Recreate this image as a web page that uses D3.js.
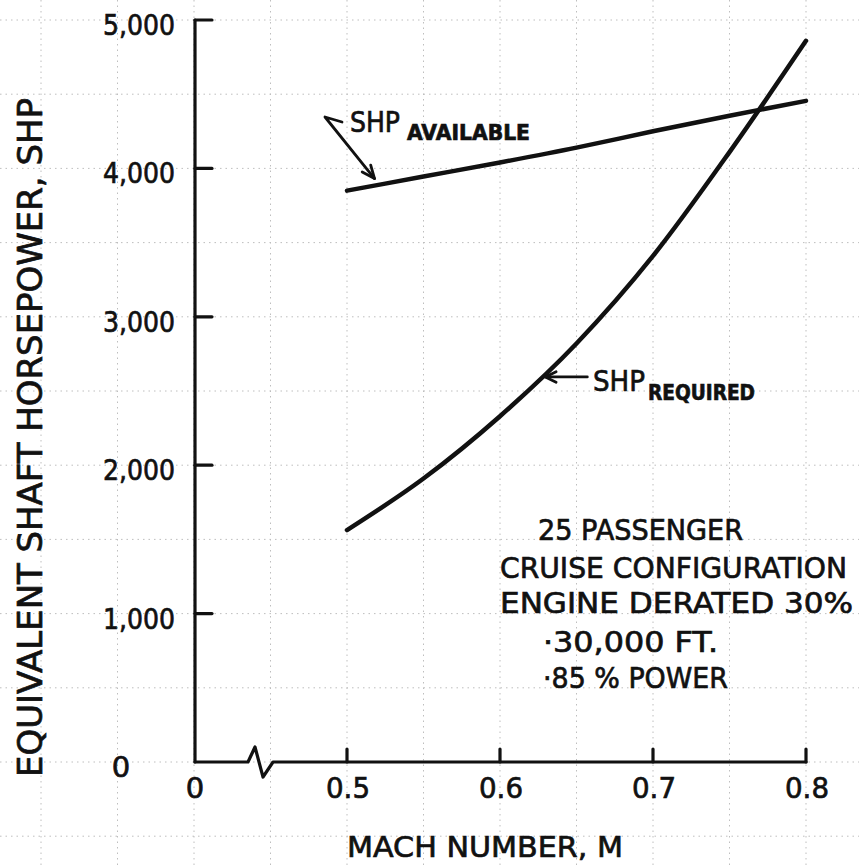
<!DOCTYPE html>
<html>
<head>
<meta charset="utf-8">
<script src="https://cdn.jsdelivr.net/npm/d3@7/dist/d3.min.js"></script>
<style>
  html, body { margin: 0; padding: 0; background: #fff; }
  svg { display: block; }
  text { font-family: "DejaVu Sans", "Liberation Sans", sans-serif; fill: #111; stroke: #111; stroke-width: 0.7px; }
</style>
</head>
<body>
<script>
// ---------------- data ----------------
const mach = [0.5, 0.55, 0.6, 0.65, 0.7, 0.75, 0.8];
const shpAvailable = [3850, 3945, 4040, 4140, 4250, 4355, 4455];
const shpRequired = [1563, 1910, 2330, 2820, 3410, 4110, 4860];
const machTicks = [0.5, 0.6, 0.7, 0.8];
const shpTicks = [0, 1000, 2000, 3000, 4000, 5000];
const xTitle = "MACH NUMBER, M";
const yTitle = "EQUIVALENT SHAFT HORSEPOWER, SHP";
const noteLines = ["25 PASSENGER", "CRUISE CONFIGURATION", "ENGINE DERATED 30%", "·30,000 FT.", "·85 % POWER"];

// ---------------- layout ----------------
const W = 859, H = 868;
const svg = d3.select("body").append("svg").attr("width", W).attr("height", H);

const x = d3.scaleLinear().domain([0.5, 0.8]).range([347, 806]);
const y = d3.scaleLinear().domain([0, 5000]).range([762, 20]);
const axisX0 = 195;            // broken-axis origin (M = 0)

// ---------------- paper grid ----------------
const grid = svg.append("g").attr("stroke", "#8a8a8a").attr("stroke-width", 1)
  .attr("stroke-dasharray", "1.5 4").attr("opacity", 0.55);
const gx = d3.range(0.30, 0.851, 0.05);
const gy = d3.range(-500, 5501, 500);
grid.selectAll("line.v").data(gx).join("line").attr("class", "v")
  .attr("x1", d => x(d)).attr("x2", d => x(d)).attr("y1", 0).attr("y2", H);
grid.selectAll("line.h").data(gy).join("line").attr("class", "h")
  .attr("y1", d => y(d)).attr("y2", d => y(d)).attr("x1", 0).attr("x2", W);

// ---------------- axes ----------------
const ax = svg.append("g").attr("stroke", "#111").attr("fill", "none")
  .attr("stroke-width", 3.2).attr("stroke-linecap", "round").attr("stroke-linejoin", "round");
ax.append("line").attr("x1", axisX0).attr("x2", axisX0).attr("y1", y(5000)).attr("y2", y(0));
ax.selectAll("line.yt").data(shpTicks.filter(d => d > 0)).join("line").attr("class", "yt")
  .attr("x1", axisX0).attr("x2", axisX0 + 17).attr("y1", d => y(d)).attr("y2", d => y(d));
const y0 = y(0);
ax.append("path").attr("d",
  `M${axisX0},${y0} L248,${y0} L255,${y0 - 15} L263,${y0 + 15} L273,${y0} L${x(0.8)},${y0}`);
ax.selectAll("line.xt").data(machTicks).join("line").attr("class", "xt")
  .attr("x1", d => x(d)).attr("x2", d => x(d)).attr("y1", y0).attr("y2", y0 - 13);

// tick labels
svg.selectAll("text.yl").data(shpTicks.filter(d => d > 0)).join("text").attr("class", "yl")
  .attr("x", 175).attr("y", d => y(d) + 15).attr("text-anchor", "end")
  .attr("font-size", 29).attr("textLength", 72).attr("lengthAdjust", "spacingAndGlyphs")
  .text(d => d3.format(",")(d));
svg.append("text").attr("x", 121).attr("y", y0 + 15).attr("text-anchor", "middle")
  .attr("font-size", 29).text("0");
svg.selectAll("text.xl").data(machTicks).join("text").attr("class", "xl")
  .attr("x", d => x(d) + 1).attr("y", y0 + 36).attr("text-anchor", "middle")
  .attr("font-size", 29).attr("textLength", 44).attr("lengthAdjust", "spacingAndGlyphs")
  .text(d => d.toFixed(1));
svg.append("text").attr("x", axisX0).attr("y", y0 + 36).attr("text-anchor", "middle")
  .attr("font-size", 29).text("0");

// axis titles
svg.append("text").attr("x", 347).attr("y", 857)
  .attr("font-size", 29).attr("textLength", 276).attr("lengthAdjust", "spacingAndGlyphs")
  .text(xTitle);
svg.append("text").attr("transform", "translate(42,777) rotate(-90)")
  .attr("font-size", 33).attr("textLength", 679).attr("lengthAdjust", "spacingAndGlyphs")
  .text(yTitle);

// ---------------- curves ----------------
const line = d3.line().x(d => x(d[0])).y(d => y(d[1])).curve(d3.curveMonotoneX);
const curves = svg.append("g").attr("fill", "none").attr("stroke", "#111")
  .attr("stroke-width", 4.5).attr("stroke-linecap", "round");
curves.append("path").attr("d", line(mach.map((m, i) => [m, shpAvailable[i]])));
curves.append("path").attr("d", line(mach.map((m, i) => [m, shpRequired[i]])));

// ---------------- annotations ----------------
function interp(arr, m) {
  const i = Math.min(mach.length - 2, Math.max(0, Math.floor((m - mach[0]) / 0.05)));
  const t = (m - mach[i]) / (mach[i + 1] - mach[i]);
  return arr[i] + t * (arr[i + 1] - arr[i]);
}
const ann = svg.append("g").attr("fill", "none").attr("stroke", "#111")
  .attr("stroke-width", 2.8).attr("stroke-linecap", "round").attr("stroke-linejoin", "round");
function arrowHead(g, x1, y1, x2, y2, len, ang) {
  const a = Math.atan2(y2 - y1, x2 - x1);
  const p1 = [x2 - len * Math.cos(a - ang), y2 - len * Math.sin(a - ang)];
  const p2 = [x2 - len * Math.cos(a + ang), y2 - len * Math.sin(a + ang)];
  g.append("path").attr("d", `M${p1[0]},${p1[1]} L${x2},${y2} L${p2[0]},${p2[1]}`);
}
const ax1 = x(0.518), ay1 = y(interp(shpAvailable, 0.518)) - 7;
ann.append("path").attr("d", `M342,122 L325,117 L${ax1},${ay1}`);
arrowHead(ann, 325, 117, ax1, ay1, 14, 0.4);
svg.append("text").attr("x", 350).attr("y", 132).attr("font-size", 28)
  .attr("textLength", 50).attr("lengthAdjust", "spacingAndGlyphs").text("SHP");
svg.append("text").attr("x", 407).attr("y", 140).attr("font-size", 21).attr("font-weight", "bold")
  .attr("textLength", 123).attr("lengthAdjust", "spacingAndGlyphs").text("AVAILABLE");

const rx = x(0.627) + 4, ry = y(interp(shpRequired, 0.627));
ann.append("line").attr("x1", rx + 42).attr("y1", ry).attr("x2", rx).attr("y2", ry);
arrowHead(ann, rx + 42, ry, rx, ry, 12, 0.45);
svg.append("text").attr("x", 593).attr("y", 391).attr("font-size", 29)
  .attr("textLength", 52).attr("lengthAdjust", "spacingAndGlyphs").text("SHP");
svg.append("text").attr("x", 648).attr("y", 400).attr("font-size", 21).attr("font-weight", "bold")
  .attr("textLength", 107).attr("lengthAdjust", "spacingAndGlyphs").text("REQUIRED");

// note block
const noteX = [538, 500, 500, 543, 543];
const noteY = [540, 578, 613, 652, 688];
const noteL = [205, 347, 353, 175, 185];
svg.selectAll("text.note").data(noteLines).join("text").attr("class", "note")
  .attr("x", (d, i) => noteX[i]).attr("y", (d, i) => noteY[i])
  .attr("font-size", 29).attr("textLength", (d, i) => noteL[i])
  .attr("lengthAdjust", "spacingAndGlyphs").text(d => d);
</script>
</body>
</html>
